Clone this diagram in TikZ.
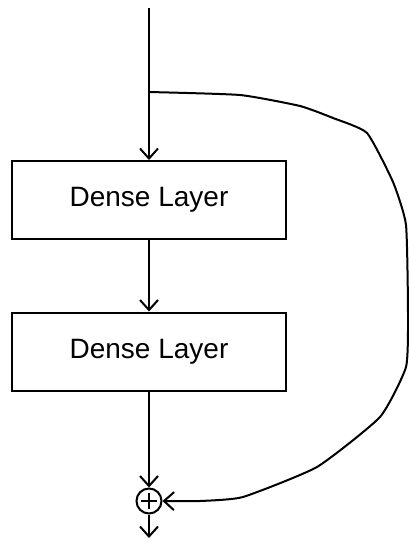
\documentclass[tikz,border=0pt]{standalone}
\usepackage{fontspec}
\setmainfont{Liberation Sans}
\usetikzlibrary{arrows.meta}
\begin{document}
\begin{tikzpicture}[x=1pt,y=-1pt,
  line width=2pt,
  tip/.style={-{Straight Barb[length=10pt,width=18pt,line width=2pt]}},
  layer/.style={draw,rectangle,minimum width=274pt,minimum height=78pt,
    font=\fontsize{28}{32}\selectfont,inner sep=0pt},
  addop/.style={draw,circle,minimum size=25pt,inner sep=0pt,
    path picture={
      \draw[line width=2pt] ([xshift=-8pt]path picture bounding box.center) -- ([xshift=8pt]path picture bounding box.center);
      \draw[line width=2pt] ([yshift=-8pt]path picture bounding box.center) -- ([yshift=8pt]path picture bounding box.center);
    }}]
  \useasboundingbox (0,0) rectangle (408,544);

  % blocks
  \node[layer] (d1) at (149,200) {Dense Layer};
  \node[layer] (d2) at (149,351.5) {Dense Layer};
  \node[addop] (add) at (149,501) {};

  % free ends
  \coordinate (in) at (149,8);
  \coordinate (split) at (149,92);
  \coordinate (out) at (149,538);

  % main path
  \draw[tip] (in) -- (d1.north);
  \draw[tip] (d1.south) -- (d2.north);
  \draw[tip] (d2.south) -- (add.north);
  \draw[tip] (add.south) -- (out);

  % skip connection
  \draw[tip] plot[smooth,tension=0.3] coordinates {
    (split) (240,95) (300,106) (333,118) (367,133) (393,182) (406,225)
    (408,313) (406,367) (380,417) (317,467) (243,497) (200,501) (add.east)};
\end{tikzpicture}
\end{document}
